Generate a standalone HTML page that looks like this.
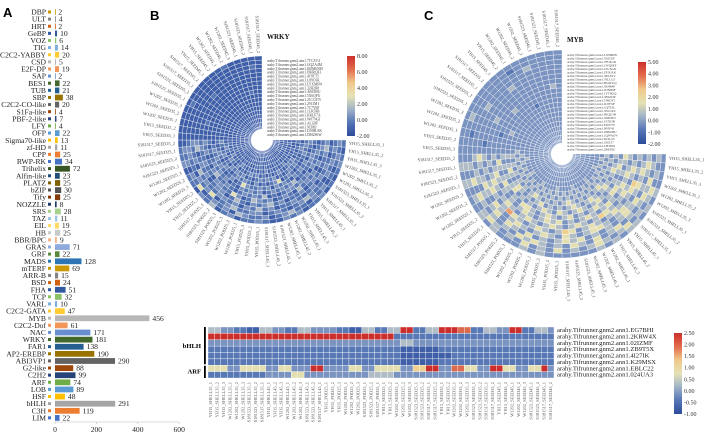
<!DOCTYPE html>
<html><head><meta charset="utf-8"><style>
html,body{margin:0;padding:0;background:#fff}
svg{display:block;font-family:"Liberation Serif",serif}
</style></head><body>
<svg id="fig" width="708" height="434" viewBox="0 0 708 434" xmlns="http://www.w3.org/2000/svg">
<text x="3" y="17" font-family="Liberation Sans" font-weight="bold" font-size="13">A</text>
<text x="150" y="20" font-family="Liberation Sans" font-weight="bold" font-size="13">B</text>
<text x="424" y="20" font-family="Liberation Sans" font-weight="bold" font-size="13">C</text>
<text x="378" y="351" font-family="Liberation Sans" font-weight="bold" font-size="13">D</text>
<g id="panelA"></g>
<g id="panelB"></g>
<g id="panelC"></g>
<g id="panelD"></g>
</svg>
<script>
const famNames=["DBP","ULT","HRT","GeBP","VOZ","TIG","C2C2-YABBY","CSD","E2F-DP","SAP","BES1","TUB","SBP","C2C2-CO-like","S1Fa-like","PBF-2-like","LFY","OFP","Sigma70-like","zf-HD","CPP","RWP-RK","Trihelix","Alfin-like","PLATZ","bZIP","Tify","NOZZLE","SRS","TAZ","EIL","HB","BBR/BPC","GRAS","GRF","MADS","mTERF","ARR-B","BSD","FHA","TCP","VARL","C2C2-GATA","MYB","C2C2-Dof","NAC","WRKY","FAR1","AP2-EREBP","ABI3VP1","G2-like","C2H2","ARF","LOB","HSF","bHLH","C3H","LIM"];
const famCounts=[2,4,2,10,6,14,20,5,19,2,22,21,38,20,4,7,4,22,13,11,25,34,72,23,25,30,25,8,28,11,19,25,9,71,22,128,69,15,24,51,32,10,47,456,61,171,181,138,190,290,88,99,74,89,48,291,119,22];
const xTicks=[0,200,400,600];
const samples=["YH15_SHELL35_1","YH15_SHELL35_2","YH15_SHELL35_3","W1202_SHELL35_1","W1202_SHELL35_2","W1202_SHELL35_3","S181523_SHELL35_1","S181523_SHELL35_2","S181517_SHELL35_1","YH15_SHELL45_1","YH15_SHELL45_2","YH15_SHELL45_3","W1202_SHELL45_1","W1202_SHELL45_2","W1202_SHELL45_3","S181523_SHELL45_1","S181523_SHELL45_2","S181517_SHELL45_1","YH15_POD25_1","YH15_POD25_2","YH15_POD25_3","W1202_POD25_1","W1202_POD25_2","W1202_POD25_3","S181523_POD25_1","S181523_POD25_2","S181517_POD25_1","YH15_SEED25_1","YH15_SEED25_2","W1202_SEED25_1","W1202_SEED25_2","W1202_SEED25_3","S181523_SEED25_1","S181523_SEED25_2","S181517_SEED25_1","S181517_SEED25_2","YH15_SEED35_1","YH15_SEED35_2","W1202_SEED35_1","W1202_SEED35_2","W1202_SEED35_3","S181523_SEED35_1","S181523_SEED35_2","S181517_SEED35_1","S181517_SEED35_2","YH15_SEED45_1","YH15_SEED45_2","W1202_SEED45_1","W1202_SEED45_2","W1202_SEED45_3","S181523_SEED45_1","S181523_SEED45_2","S181517_SEED45_1","S181517_SEED45_2"];
const wrkyLevels=[
"212321213221323112322132142312213221111111111111211111",
"323212132312243213223413232152313231111112111111111111",
"232323122343212321332243215323122332111111111111111121",
"121232313212322132423132332232413223111111111111111111",
"343221232132213243231242133213232143111111112111111111",
"232131323241232132342135223312232232111111111111111111",
"123223132323321214232321232243121323111211111111111111",
"212332212143232321323231213232321212111111111111111111",
"321213232312323132322352132123232321111111111111111211",
"232321121232153212131232321232123212111111111111111111",
"123212232321213232321213232312132123111111111111111111",
"212121323212321212132321213123212321111111111111111111",
"111212121321212131212121232121312121111111111111111111",
"121111212121211121212112121211121211111111111111111111",
"111121111211112111211121111211112111111111111111111111",
"111111211111111111111211111111211111111111111111111111",
"211111111111111111111111111111111111111111111111111111",
"111111111111111111111111111111111111111111111111111111"];
const mybLevels=[
"333343434434343333334343334343334343333333333333333333",
"434354343543454343534353434543434343333343333332333333",
"343545434354353453434545343434535343332333333333343333",
"454343545434343545434353453543434434333333433333333333",
"345454345434554345345434543453454345333333333343333333",
"434365434543454356434543457434543434323333333333333333",
"345434543456434543454345434543454343333334333333333333",
"434545434543454343545434543434345434333333333333333343",
"543434554345434354345434553434543453333233334333333333",
"345434343454345434534543434354343434333333333333333333",
"434543454345434543434354343454345434333343333333233333",
"343434345434343454343434543434343434333333333333333333",
"434343434343434343434343434343434343433333333333333333",
"343434343434343434343434343434343434333333333333333333",
"333343333433334333343333433334333343333333333333333333",
"333333333333333333333333333333333333333333333333333333",
"333333333333333333333333333333333333333333333333333333",
"333333333333333333333333333333333333333333333333333333",
"333333333333333333333333333333333333333333333333333333",
"333333333333333333333333333333333333333333333333333333"];
const wrkyGenes=["7TCZV4","GQZA4M","J60M6NM","I9HRQE1","4T8TT1","L89C6K","LYXM6W","32H2B8","A6ED0U","5X6QPU","21CGYN","2913M1","7C7V6F","1LK59B","KRLF7A","W07NGI","ALG8F","9CI8II","I3NHLSK","DM2S6W"];
const mybGenes=["L5NBKB","Y6I5UF","7FUK1R","1WQ0EF","1ECSGK","ZF3LRK","3R1XT2","76LLG5","B5ATUQ","3K4B4P","JUBD9F","1YT8OQ","3E6ZDE","T99OT5","JL8YSF","1Q7E3L","3N1L9X","8EQUJB","3DK9E3","1E7KIB","EI0VTT","9NJF4I","2M6O8U","1QWAOV","IGSL03","2SIZ57","LH3I0O","2B6T6U"];
const dGenes=["EG7BHI","2KRW4X","02IZMF","ZB9T5X","4I27IK","K29MSX","EBLC22","024UA3"];
const dLevels=[
"4433221144332244333322114422449922449998822443399224433",
"9999999999999999999999999999922222222222222222222222222",
"3333333333333333333333333333334433333333333333333333334",
"2222222222222222222222222222221111112222222222222222227",
"2222222222222222222222222222221111111122222222222222222",
"2222222222222222222222222222221111112222222222222222222",
"5553355553355333993333553355553366993388553399553355933",
"2222222223333553333333333444433333333333333333333333333"];
const bCbTicks=["8.00","6.00","4.00","2.00","0.00","-2.00"];
const cCbTicks=["5.00","4.00","3.00","2.00","1.00","0.00","-1.00","-2.00"];
const dCbTicks=["2.50","2.00","1.50","1.00","0.50","0.00","-0.50","-1.00"];

const NS="http://www.w3.org/2000/svg";
function mk(tag,attrs,parent,txt){const e=document.createElementNS(NS,tag);for(const k in attrs)e.setAttribute(k,attrs[k]);if(txt!==undefined)e.textContent=txt;parent.appendChild(e);return e;}
const levelColors=["#2c4c9c","#3f5fa9","#5878b5","#7a93c0","#b0bcc6","#e4dfb1","#efcf8e","#e99f6f","#dc6a4c","#cc2f2b"];

// ---------- Panel A ----------
const A=document.getElementById('panelA');
const x0=55, sc=0.207, yTop=12, rowH=7.12;
const xs=v=>x0+v*sc;
const pal=[["#4472c4","#ed7d31","#a5a5a5","#ffc000","#5b9bd5","#70ad47"],["#264478","#9e480e","#636363","#997300","#255e91","#43682b"],["#698ed0","#f1975a","#b7b7b7","#ffcd33","#7cafdd","#8cc168"],["#335aa1","#d26012","#848484","#cc9a00","#2e75b6","#5a8a3a"],["#8faadc","#f4b183","#c9c9c9","#ffd966","#9dc3e6","#a9d18e"],["#203864","#843c0c","#525252","#7f6000","#1f4e79","#375623"]];
famNames.forEach((n,i)=>{
  const y=yTop+i*rowH; const k=famNames.length-1-i;
  const col=pal[Math.floor(k/6)%6][k%6];
  const lab=mk('text',{x:46,y:y+2.6,'font-size':7.6,'text-anchor':'end',fill:'#222'},A,n);
  
  
  const sq=mk('rect',{x:48,y:y-1.5,width:3,height:3,fill:col},A);
  
  
  const b=mk('rect',{x:x0,y:y-2.8,width:Math.max(0.8,xs(famCounts[i])-x0),height:5.8,fill:col},A);
  
  
  const vt=mk('text',{x:xs(famCounts[i])+3,y:y+2.6,'font-size':7.6,fill:'#222'},A,famCounts[i]);
  
  
});
const ax=mk('line',{x1:x0,x2:xs(600),y1:422,y2:422,stroke:'#bbb','stroke-width':0.6},A);


xTicks.forEach(t=>{
  const tl=mk('line',{x1:xs(t),x2:xs(t),y1:422,y2:424,stroke:'#bbb','stroke-width':0.6},A);
  
  
  const tt=mk('text',{x:xs(t),y:432,'font-size':7.6,'text-anchor':'middle',fill:'#222'},A,t);
  
  
});

// ---------- polar heatmaps ----------
function polar(g,cx,cy,r1,r0,levels,genes,title,cbx,cby,cbh,ticks){
  const nR=levels.length, nS=samples.length, step=270/nS, dr=(r1-r0)/nR;
  const rad=d=>d*Math.PI/180;
  const pt=(r,a)=>[cx+r*Math.cos(rad(a)),cy+r*Math.sin(rad(a))];
  for(let i=0;i<nR;i++){
    const ro=r1-i*dr, ri=ro-dr;
    for(let j=0;j<nS;j++){
      const a0=j*step,a1=(j+1)*step;
      const p1=pt(ro,a0),p2=pt(ro,a1),p3=pt(ri,a1),p4=pt(ri,a0);
      const lv=+(levels[i][j]||'1');
      const c=mk('path',{d:`M${p1[0]},${p1[1]}A${ro},${ro} 0 0 1 ${p2[0]},${p2[1]}L${p3[0]},${p3[1]}A${ri},${ri} 0 0 0 ${p4[0]},${p4[1]}Z`,fill:levelColors[lv],stroke:'#fff','stroke-width':0.35},g);
      
      
    }
  }
  const glow=mk('circle',{cx:cx,cy:cy,r:r0+2,fill:'#fff'},g);
  
  
  samples.forEach((s,j)=>{
    const a=(j+0.5)*step; const p=pt(r1+3,a);
    const left=(a>90&&a<270);
    const t=mk('text',{x:p[0],y:p[1],'font-size':4.4,fill:'#444','text-anchor':left?'end':'start','dominant-baseline':'middle',transform:`rotate(${left?a-180:a} ${p[0]} ${p[1]})`},g,s);
    
    
  });
  const tt=mk('text',{x:cx+5,y:cy-r1+(title==='WRKY'?-17:-8),'font-size':7,'font-weight':'bold',fill:'#111'},g,title);
  
  
  const gh=(r1-6)/genes.length;
  genes.forEach((n,k)=>{
    const gt=mk('text',{x:cx+5,y:cy-r1+6+k*gh,'font-size':Math.min(3.6,gh*0.95),fill:'#444'},g,'arahy.Tifrunner.gnm2.ann1.'+n);
    
    
  });
  colorbar(g,cbx,cby,cbh,ticks);
}
let gradId=0;
function colorbar(g,x,y,h,ticks){
  const id='grad'+(gradId++);
  const defs=mk('defs',{},g);
  const lg=mk('linearGradient',{id:id,x1:0,y1:0,x2:0,y2:1},defs);
  ["#cc2f2b","#e36b4c","#efc98a","#e6e2b4","#9fb2c8","#5575b5","#2c4c9c"].forEach((c,i,a)=>mk('stop',{offset:i/(a.length-1),'stop-color':c},lg));
  const r=mk('rect',{x:x,y:y,width:8,height:h,fill:`url(#${id})`},g);
  
  
  ticks.forEach((t,i)=>{
    const yy=y+i*h/(ticks.length-1);
    const tx=mk('text',{x:x+10,y:yy+2,'font-size':6,fill:'#333'},g,t);
    
    
  });
}
polar(document.getElementById('panelB'),262,140,84,9,wrkyLevels,wrkyGenes,'WRKY',347,56,80,bCbTicks);
polar(document.getElementById('panelC'),562,154,104,9,mybLevels,mybGenes,'MYB',638,62,82,cCbTicks);

// ---------- Panel D ----------
const D=document.getElementById('panelD');
const dx0=208,dx1=554,dy0=327,dy1=378;
const nC=samples.length, cw=(dx1-dx0)/nC, rh=(dy1-dy0)/dGenes.length;
dLevels.forEach((row,r)=>{
  for(let c=0;c<nC;c++){
    const lv=+(row[c]||'2');
    const cell=mk('rect',{x:dx0+c*cw,y:dy0+r*rh,width:cw,height:rh,fill:levelColors[lv],stroke:'#fff','stroke-width':0.35},D);
    
    
  }
});
dGenes.forEach((n,r)=>{
  const t=mk('text',{x:dx1+3,y:dy0+r*rh+rh*0.8,'font-size':6.6,fill:'#222'},D,'arahy.Tifrunner.gnm2.ann1.'+n);
  
  
});
samples.forEach((s,c)=>{
  const x=dx0+(c+0.5)*cw;
  const t=mk('text',{x:x,y:382,'font-size':4.4,fill:'#555','text-anchor':'end','dominant-baseline':'middle',transform:`rotate(-90 ${x} 382)`},D,s);
  
  
});
const b1=mk('rect',{x:204,y:dy0,width:1.8,height:rh*6-1,fill:'#000'},D);


const b2=mk('rect',{x:204,y:dy0+rh*6+0.5,width:1.8,height:rh*2-0.5,fill:'#000'},D);


const g1=mk('text',{x:201,y:dy0+rh*3+2,'font-size':6.6,'font-weight':'bold','text-anchor':'end'},D,'bHLH');


const g2=mk('text',{x:201,y:dy0+rh*7+2,'font-size':6.6,'font-weight':'bold','text-anchor':'end'},D,'ARF');


colorbar(D,674,333,81,dCbTicks);
</script>
</body></html>
